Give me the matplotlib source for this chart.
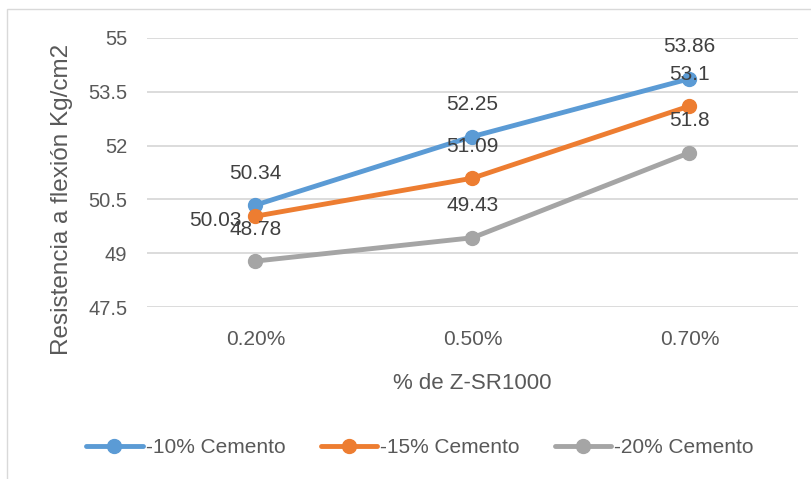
import matplotlib.pyplot as plt
from matplotlib.patches import Rectangle

plt.rcParams['font.family'] = ['Liberation Sans', 'DejaVu Sans']

# datos del grafico
categorias = ['0.20%', '0.50%', '0.70%']
series = ['-10% Cemento', '-15% Cemento', '-20% Cemento']
menos10 = [50.34, 52.25, 53.86]
menos15 = [50.03, 51.09, 53.1]
menos20 = [48.78, 49.43, 51.8]
yticks = [47.5, 49, 50.5, 52, 53.5, 55]

colores = ['#5B9BD5', '#ED7D31', '#A5A5A5']
gris_texto = '#595959'

fig = plt.figure(figsize=(8.11, 4.79), dpi=100)
ax = fig.add_axes([0.181, 0.359, 0.803, 0.562])

x = [i + 0.5 for i in range(len(categorias))]
for vals, nombre, c in zip([menos10, menos15, menos20], series, colores):
    ax.plot(x, vals, color=c, lw=3.5, marker='o', ms=10, label=nombre,
            solid_capstyle='round', zorder=3)
    for xi, v in zip(x, vals):
        # la etiqueta 50.03 queda a la izquierda del punto
        if nombre == '-15% Cemento' and xi == x[0]:
            off, ha = (-10, -3), 'right'
        else:
            off, ha = (0, 23), 'center'
        ax.annotate(f'{v:g}', (xi, v), xytext=off, textcoords='offset points',
                    ha=ha, va='center', fontsize=15, color='#404040', zorder=4)

ax.set_xlim(0, 3)
ax.set_ylim(47.5, 55)
ax.set_yticks(yticks)
ax.set_yticklabels([f'{t:g}' for t in yticks])
ax.set_xticks(x)
ax.set_xticklabels(categorias)
ax.tick_params(axis='y', length=0, pad=14, labelsize=14.5, labelcolor=gris_texto)
ax.tick_params(axis='x', length=0, pad=16.5, labelsize=15, labelcolor=gris_texto)
ax.yaxis.grid(True, color='#D9D9D9', lw=1.3)
ax.set_axisbelow(True)
for s in ax.spines.values():
    s.set_visible(False)

ax.set_ylabel('Resistencia a flexión Kg/cm2', fontsize=17.5, color=gris_texto)
ax.yaxis.set_label_coords(-0.114, 0.40)
ax.set_xlabel('% de Z-SR1000', fontsize=16, color=gris_texto, labelpad=17)

fig.legend(loc='center', bbox_to_anchor=(0.518, 0.065), ncol=3, frameon=False,
           fontsize=15, labelcolor=gris_texto, handlelength=2.7, handletextpad=0.15,
           columnspacing=1.7, numpoints=1)

# borde del area del grafico
fig.add_artist(Rectangle((7 / 811, -0.05), 1.0, 1 - 9 / 479 + 0.05,
                         transform=fig.transFigure, fill=False, ec='#D9D9D9', lw=1))

fig.savefig('out.png', dpi=100)
